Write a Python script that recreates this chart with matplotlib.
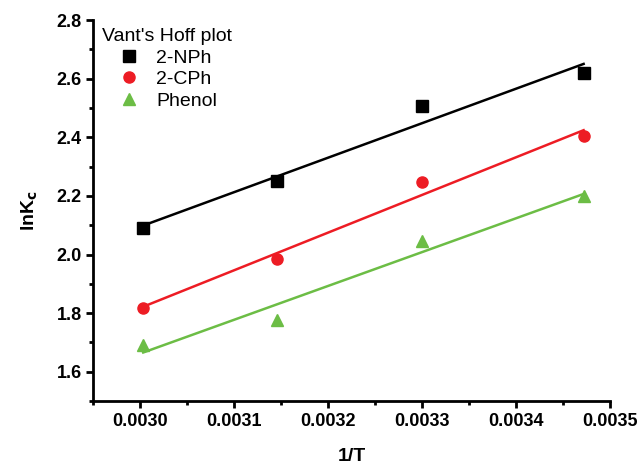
import numpy as np
import matplotlib.pyplot as plt

plt.rcParams["font.family"] = ["Liberation Sans", "DejaVu Sans"]

inv_t = [0.003003, 0.003145, 0.003300, 0.003472]
lnk_nph = [2.089, 2.250, 2.506, 2.619]
lnk_cph = [1.819, 1.986, 2.246, 2.403]
lnk_phenol = [1.690, 1.775, 2.045, 2.200]

series = [
    ("2-NPh", lnk_nph, "black", "s"),
    ("2-CPh", lnk_cph, "#ed1c24", "o"),
    ("Phenol", lnk_phenol, "#6cbd45", "^"),
]

fig = plt.figure(figsize=(6.4, 4.69), dpi=100)
ax = fig.add_axes([0.146, 0.145, 0.807, 0.812])

x = np.array(inv_t)
for name, vals, col, mk in series:
    ax.plot(x, vals, linestyle="none", marker=mk, color=col, markersize=8, label=name)
    # linear fit line
    k, b = np.polyfit(x, vals, 1)
    ax.plot(x[[0, -1]], k * x[[0, -1]] + b, color=col, linewidth=1.8)

ax.set_xlim(0.00295, 0.0035)
ax.set_ylim(1.5, 2.8)
ax.set_xticks([0.0030, 0.0031, 0.0032, 0.0033, 0.0034, 0.0035])
ax.set_xticks(np.arange(0.00295, 0.00351, 0.0001), minor=True)
ax.set_yticks([1.6, 1.8, 2.0, 2.2, 2.4, 2.6, 2.8])
ax.set_yticks(np.arange(1.5, 2.81, 0.1), minor=True)
ax.xaxis.set_major_formatter(plt.FormatStrFormatter("%.4f"))
ax.yaxis.set_major_formatter(plt.FormatStrFormatter("%.1f"))

for s in ["top", "right"]:
    ax.spines[s].set_visible(False)
for s in ["left", "bottom"]:
    ax.spines[s].set_linewidth(2)

ax.tick_params(axis="both", which="major", direction="out", length=5, width=2, labelsize=13)
ax.tick_params(axis="both", which="minor", direction="out", length=3, width=2)
for lab in ax.get_xticklabels() + ax.get_yticklabels():
    lab.set_fontweight("bold")

ax.set_xlabel("1/T", fontsize=14, fontweight="bold", labelpad=13)
ax.set_ylabel("lnK$_\\mathbf{c}$", fontsize=14, fontweight="bold", labelpad=12)

leg = ax.legend(title="Vant's Hoff plot", loc="upper left", frameon=False,
                fontsize=14, title_fontsize=14, bbox_to_anchor=(-0.006, 1.01),
                handletextpad=0.8, borderaxespad=0.2, labelspacing=0.2,
                handlelength=1.2)

fig.savefig("out.png", dpi=100)
